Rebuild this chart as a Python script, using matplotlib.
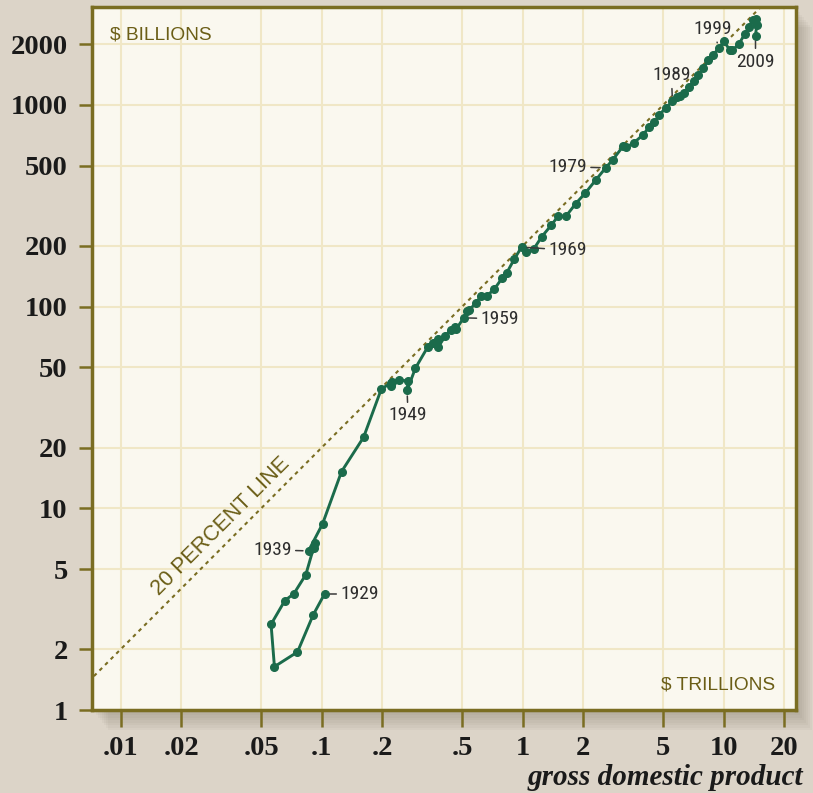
import numpy as np
import matplotlib
matplotlib.use('Agg')
import matplotlib.pyplot as plt
from matplotlib import font_manager
from matplotlib.patches import Rectangle

# federal receipts ($ billions) against GDP ($ trillions), 1929-2009
years = list(range(1929, 2010))
gdp = [0.1033, 0.0907, 0.0758, 0.0582, 0.0560, 0.0656, 0.0727, 0.0834, 0.0925, 0.0918,
       0.0860, 0.101, 0.1255, 0.1616, 0.198, 0.222, 0.225, 0.221, 0.2436, 0.269,
       0.266, 0.2925, 0.338, 0.3567, 0.3795, 0.3795, 0.413, 0.4375, 0.4616, 0.4665,
       0.509, 0.5295, 0.5438, 0.5871, 0.622, 0.664, 0.7225, 0.792, 0.835, 0.908,
       0.9874, 1.042, 1.1335, 1.2466, 1.384, 1.505, 1.638, 1.8385, 2.048, 2.315,
       2.589, 2.808, 3.153, 3.274, 3.561, 3.97, 4.255, 4.52, 4.79, 5.146,
       5.56, 5.863, 6.086, 6.32, 6.74, 7.078, 7.493, 7.93, 8.39, 8.88,
       9.47, 10.03, 10.7, 11.05, 11.9, 12.7, 13.4, 14.0, 14.4, 14.6,
       14.4]
receipts = [3.76, 2.96, 1.94, 1.64, 2.66, 3.49, 3.77, 4.69, 6.71, 6.34,
            6.15, 8.37, 15.2, 22.5, 39.0, 42.0, 42.5, 40.2, 43.4, 42.7,
            38.4, 49.5, 63.4, 66.4, 69.0, 63.0, 71.7, 76.7, 79.7, 77.3,
            88.0, 95.0, 96.4, 104.8, 113.1, 113.1, 122.1, 138.9, 147.6, 172,
            197.3, 187, 192.8, 222.7, 252.6, 282.1, 279.9, 324.6, 365.6, 425.6,
            488, 535, 622.7, 618, 647, 711, 777, 819, 894, 966,
            1041, 1089, 1114, 1145, 1222, 1318, 1413, 1525, 1663, 1775,
            1915, 2065, 1880, 1870, 2000, 2240, 2430, 2650, 2680, 2480,
            2210]

tick_vals_x = [.01, .02, .05, .1, .2, .5, 1, 2, 5, 10, 20]
tick_labs_x = ['.01', '.02', '.05', '.1', '.2', '.5', '1', '2', '5', '10', '20']
tick_vals_y = [1, 2, 5, 10, 20, 50, 100, 200, 500, 1000, 2000]

# labelled years: (year, dx px, dy px, ha, va)
labelled = [(1929, 16, 0, 'left', 'center'),
            (1939, -17, 1, 'right', 'center'),
            (1949, 1, -25, 'center', 'center'),
            (1959, 17, -1, 'left', 'center'),
            (1969, 27, -3, 'left', 'center'),
            (1979, -19, 1, 'right', 'center'),
            (1989, -1, 26, 'center', 'center'),
            (1999, -6, 19, 'center', 'center'),
            (2009, 0, -26, 'center', 'center')]

# pick a narrow font for the year labels if one is around
names = {f.name for f in font_manager.fontManager.ttflist}
narrow = 'DejaVu Sans'
for cand in ['Liberation Sans Narrow', 'Roboto Condensed', 'Open Sans Condensed']:
    if cand in names:
        narrow = cand
        break

olive = '#7a6d22'
text_olive = '#6b5e17'
green = '#1b6b4b'
px = 72 / 100.0  # points per pixel

fig = plt.figure(figsize=(8.13, 7.93), dpi=100, facecolor='#dcd4c8')
L, B = 92 / 813, 1 - 710 / 793
W, H = (796 - 92) / 813, (710 - 7) / 793

# soft shadow behind the plot box
for i in range(8, 0, -1):
    fig.patches.append(Rectangle((L + 2 * i / 813, B - 2.5 * i / 793), W, H,
                                 transform=fig.transFigure, facecolor='#6e6658',
                                 edgecolor='none', alpha=0.05, zorder=-5))

ax = fig.add_axes([L, B, W, H])
ax.set_zorder(1)
ax.set_facecolor('#faf8ef')
ax.set_xscale('log')
ax.set_yscale('log')
ax.set_xlim(0.0072, 22.9)
ax.set_ylim(1, 3060)

ax.set_xticks(tick_vals_x)
ax.set_xticklabels(tick_labs_x)
ax.set_yticks(tick_vals_y)
ax.set_yticklabels([str(v) for v in tick_vals_y])
ax.minorticks_off()
ax.grid(True, color='#f0e7c6', lw=1.5, zorder=0)
ax.set_axisbelow(True)

for s in ax.spines.values():
    s.set_color(olive)
    s.set_linewidth(2.5)

ax.tick_params(axis='y', length=9.5, width=1.8, color=olive, pad=8)
ax.tick_params(axis='x', length=12, width=1.8, color=olive, pad=7)
for lab in ax.get_xticklabels() + ax.get_yticklabels():
    lab.set_fontfamily('Liberation Serif')
    lab.set_fontweight('bold')
    lab.set_fontsize(20.5)
    lab.set_color('#1a1a1a')

# 20 percent line: receipts = 0.2 * GDP (billions vs trillions)
xl = np.logspace(-2.3, 1.5, 60)
ax.plot(xl, 200 * xl, color=olive, lw=1.5, linestyle=(0, (1.8, 2.0)), zorder=2)
ax.text(0.0315, 8.1, '20 PERCENT LINE', rotation=45, rotation_mode='anchor',
        ha='center', va='center', color=text_olive, fontsize=15.5,
        family='Liberation Sans')

ax.plot(gdp, receipts, color=green, lw=2.1, marker='o', ms=5.5, zorder=3)

for yr, dx, dy, ha, va in labelled:
    i = years.index(yr)
    ax.annotate(str(yr), xy=(gdp[i], receipts[i]), xytext=(dx * px, dy * px),
                textcoords='offset points', ha=ha, va=va, fontsize=14,
                family=narrow, fontstretch='condensed', color='#2e2e2e',
                arrowprops=dict(arrowstyle='-', color='#3a3a3a', lw=1.1,
                                shrinkA=1, shrinkB=4),
                zorder=4)

ax.text(0.0256, 0.960, '$ BILLIONS', transform=ax.transAxes, ha='left',
        va='center', color=text_olive, fontsize=13.8, family='Liberation Sans')
ax.text(0.970, 0.0356, '$ TRILLIONS', transform=ax.transAxes, ha='right',
        va='center', color=text_olive, fontsize=13.8, family='Liberation Sans')

fig.text(0.988, 0.019, 'gross domestic product', ha='right', va='center',
         fontsize=21, family='Liberation Serif', style='italic',
         weight='bold', color='#1a1a1a')

fig.savefig('out.png', dpi=100, facecolor=fig.get_facecolor())
